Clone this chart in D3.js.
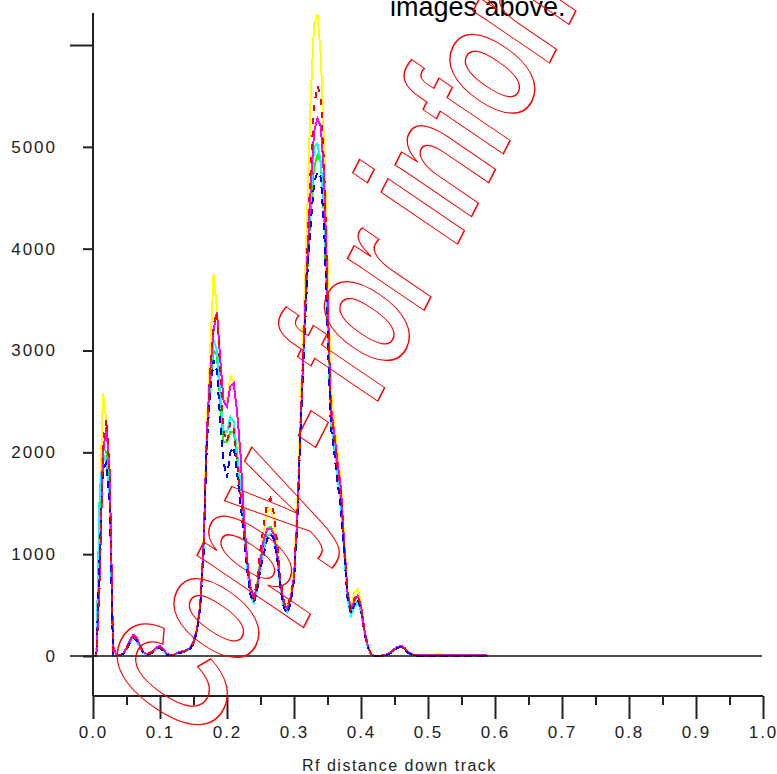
<!DOCTYPE html>
<html>
<head>
<meta charset="utf-8">
<script src="https://cdn.jsdelivr.net/npm/d3@7"></script>
<style>
  body { margin: 0; background: #fff; }
  svg { display: block; }
  text { font-family: "Liberation Sans", Arial, sans-serif; }
</style>
</head>
<body>
<div id="chart"></div>
<script>
// sampling grid along the track (Rf), one reading every 0.005
const rf = d3.range(119).map(i => +(i * 0.005).toFixed(3));

// densitometer readings per lane
const yellow = [
  0,0,1500,2580,2300,1700,0,10,10,20,
  80,150,200,170,100,40,20,30,50,80,
  90,60,20,10,10,30,40,50,60,80,
  140,270,520,1150,2300,3000,3750,3400,2900,2500,
  2500,2750,2700,2400,1900,1350,900,680,560,720,
  1000,1250,1420,1450,1350,1050,720,520,500,600,
  850,1500,2450,3400,4400,5500,6200,6300,5900,5000,
  3900,2650,2300,2000,1700,1150,650,480,620,660,
  520,250,100,20,0,0,5,10,20,40,
  70,90,100,80,40,20,10,10,10,15,
  10,10,15,20,15,10,10,15,10,10,
  15,10,10,15,10,10,5,0,0];
const red = [
  0,0,700,2100,2330,1800,0,0,10,20,
  70,140,190,160,90,40,20,30,50,70,
  90,60,20,10,10,20,30,40,60,70,
  130,250,480,1050,2150,2800,3250,3380,2800,2200,
  2100,2300,2250,1900,1600,1250,900,650,560,750,
  1050,1300,1500,1550,1400,1100,750,530,480,580,
  800,1400,2350,3200,4000,4800,5400,5600,5500,4800,
  3600,2400,2150,1850,1600,1100,620,460,560,610,
  480,240,90,20,0,0,0,10,20,40,
  60,80,90,70,40,20,10,5,0,0,
  0,5,0,0,5,0,0,0,5,0,
  0,0,5,0,0,0,0,0,0];
const magenta = [
  0,0,800,2000,2250,1800,100,0,10,20,
  80,150,210,180,110,40,20,30,50,90,
  100,70,20,10,10,30,40,50,60,80,
  140,260,500,1100,2200,2800,3200,3380,2900,2500,
  2450,2650,2680,2400,2000,1400,950,680,580,680,
  920,1150,1250,1250,1200,1000,700,510,470,560,
  780,1350,2300,3150,3900,4600,5150,5280,5200,4700,
  3550,2450,2200,1900,1650,1100,620,460,540,590,
  500,260,110,20,0,0,5,10,20,40,
  70,90,100,80,40,20,10,5,5,10,
  5,5,10,5,5,10,5,5,10,5,
  5,10,5,5,10,5,5,10,0];
const cyan = [
  0,0,1600,1980,1900,1500,0,0,10,20,
  60,130,180,150,90,30,10,20,40,70,
  80,50,10,5,5,20,30,40,50,70,
  120,240,480,1050,2150,2800,3100,3000,2600,2200,
  2200,2350,2300,2000,1700,1250,850,600,520,650,
  880,1050,1180,1200,1150,950,650,480,430,540,
  760,1350,2300,3100,3900,4500,5000,5030,4850,4400,
  3400,2300,2100,1750,1500,1000,550,400,480,520,
  450,230,90,10,0,0,0,5,15,30,
  60,80,90,70,30,15,5,0,0,0,
  0,0,0,0,0,0,0,0,0,0,
  0,0,0,0,0,0,0,0,0];
const green = [
  0,0,1400,2050,2000,1600,0,0,10,20,
  70,140,190,160,100,40,20,30,50,80,
  90,60,20,10,10,20,30,40,60,70,
  130,250,490,1080,2150,2700,3000,2950,2500,2100,
  2100,2200,2200,1950,1650,1300,900,650,550,700,
  950,1100,1250,1270,1200,1000,700,500,450,560,
  780,1380,2280,3050,3800,4400,4800,4920,4850,4300,
  3300,2300,2050,1800,1550,1050,580,430,500,540,
  440,240,100,20,0,0,5,10,20,40,
  60,80,90,70,30,15,10,5,5,0,
  0,0,5,0,0,0,0,5,0,0,
  0,0,0,0,0,0,0,0,0];
const blue = [
  0,0,1000,1830,1900,1500,0,0,10,20,
  60,130,180,150,90,30,10,20,40,70,
  80,50,10,5,5,20,30,40,50,70,
  120,240,470,1000,2100,2600,2900,2800,2300,1900,
  1750,2000,2050,1800,1500,1200,850,600,520,640,
  860,1000,1150,1200,1150,950,650,470,420,520,
  740,1300,2250,3000,3750,4250,4650,4750,4700,4200,
  3200,2250,2000,1700,1450,1000,560,420,500,560,
  450,230,90,10,0,0,0,5,15,30,
  60,80,90,70,30,15,5,0,0,0,
  0,0,0,0,0,0,0,0,0,0,
  0,0,0,0,0,0,0,0,0];

const yTicks = [0, 1000, 2000, 3000, 4000, 5000];
const xTicks = [0, 0.1, 0.2, 0.3, 0.4, 0.5, 0.6, 0.7, 0.8, 0.9, 1.0];
const xMinor = [0.05, 0.15, 0.25, 0.35, 0.45, 0.55, 0.65, 0.75, 0.85, 0.95];

// draw order matters: later lanes sit on top
const lanes = [
  { values: yellow,  color: "#ffff00" },
  { values: green,   color: "#00ff00" },
  { values: cyan,    color: "#00ffff" },
  { values: magenta, color: "#ff00ff" },
  { values: blue,    color: "#0000ff", dash: "7,5" },
  { values: red,     color: "#ff0000", dash: "6,7" }
];

const W = 777, H = 774;
const x = d3.scaleLinear().domain([0, 1]).range([93, 763]);
const y = d3.scaleLinear().domain([0, 6000]).range([656, 45]);

const svg = d3.select("#chart").append("svg")
  .attr("width", W).attr("height", H);

// caption fragment cut off at the top
svg.append("text")
  .attr("x", 390).attr("y", 16)
  .style("font-size", "27px")
  .attr("fill", "#000")
  .text("images above.");

// lanes
const line = d3.line()
  .x((d, i) => x(rf[i]))
  .y(d => y(d));

svg.append("g").selectAll("path")
  .data(lanes)
  .enter().append("path")
  .attr("d", d => line(d.values))
  .attr("fill", "none")
  .attr("stroke", d => d.color)
  .attr("stroke-width", 2)
  .attr("shape-rendering", "crispEdges")
  .attr("stroke-dasharray", d => d.dash || null);

// zero line
svg.append("line")
  .attr("x1", 70).attr("x2", 762)
  .attr("y1", y(0)).attr("y2", y(0))
  .attr("stroke", "#111").attr("stroke-width", 1.5);

// y axis
const yAxisG = svg.append("g").attr("transform", "translate(93,0)");
yAxisG.append("line")
  .attr("x1", 0).attr("x2", 0)
  .attr("y1", 13).attr("y2", 696)
  .attr("stroke", "#222").attr("stroke-width", 2);
yAxisG.call(d3.axisLeft(y).tickValues(yTicks).tickSize(10).tickPadding(26).tickFormat(d3.format("d")))
  .call(g => g.select(".domain").remove());
yAxisG.append("g")
  .call(d3.axisLeft(y).tickValues([6000]).tickSize(23).tickFormat(""))
  .call(g => g.select(".domain").remove());
yAxisG.selectAll(".tick line").attr("stroke", "#222").attr("stroke-width", 2);
yAxisG.selectAll(".tick text")
  .style("font-size", "17px")
  .style("letter-spacing", "2px")
  .attr("fill", "#222");

// x axis
const xAxisG = svg.append("g").attr("transform", "translate(0,696)");
xAxisG.call(d3.axisBottom(x).tickValues(xTicks).tickSize(23).tickPadding(7).tickFormat(d3.format(".1f")))
  .call(g => g.select(".domain").remove());
xAxisG.append("g")
  .call(d3.axisBottom(x).tickValues(xMinor).tickSize(9).tickFormat(""))
  .call(g => g.select(".domain").remove());
xAxisG.append("line")
  .attr("x1", x(0)).attr("x2", x(1))
  .attr("y1", 0).attr("y2", 0)
  .attr("stroke", "#222").attr("stroke-width", 2);
xAxisG.selectAll(".tick line").attr("stroke", "#222").attr("stroke-width", 2);
xAxisG.selectAll(".tick text")
  .style("font-size", "17px")
  .style("letter-spacing", "2px")
  .attr("fill", "#222");

svg.append("text")
  .attr("x", 302).attr("y", 771)
  .style("font-size", "16px")
  .style("letter-spacing", "1.5px")
  .attr("fill", "#222")
  .text("Rf distance down track");

// outlined watermark, slanted across the plot
svg.append("text")
  .attr("transform", "matrix(0.502,-0.99,1.445,0.983,203,746)")
  .style("font-size", "100px")
  .style("font-weight", "bold")
  .attr("fill", "none")
  .attr("stroke", "#ff0000")
  .attr("stroke-width", 1.3)
  .attr("vector-effect", "non-scaling-stroke")
  .text("Copy - for information");
</script>
</body>
</html>
